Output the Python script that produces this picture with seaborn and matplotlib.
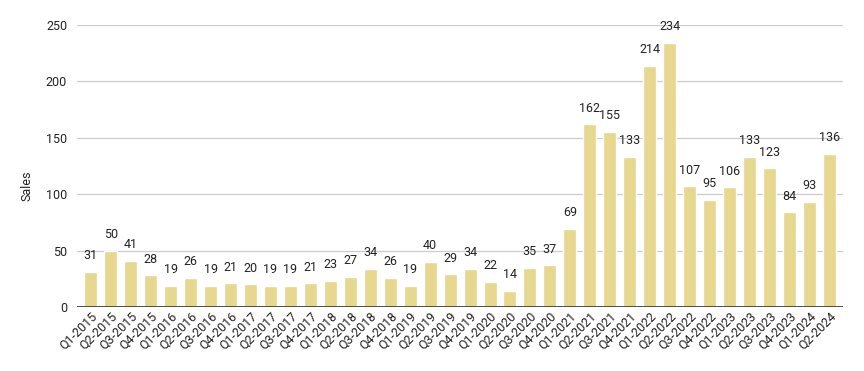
import matplotlib
matplotlib.use("Agg")
import matplotlib.pyplot as plt
import seaborn as sns
import pandas as pd

quarters = [f"Q{q}-{y}" for y in range(2015, 2025) for q in range(1, 5)][:38]
sales = [31, 50, 41, 28, 19, 26, 19, 21, 20, 19, 19, 21, 23, 27, 34, 26, 19, 40, 29, 34,
         22, 14, 35, 37, 69, 162, 155, 133, 214, 234, 107, 95, 106, 133, 123, 84, 93, 136]
yticks = [0, 50, 100, 150, 200, 250]

sns.set_theme(style="white")
plt.rcParams['font.family'] = ['Roboto', 'DejaVu Sans']

df = pd.DataFrame({"Quarter": quarters, "Sales": sales})

fig = plt.figure(figsize=(8.64, 3.71), dpi=100)
ax = fig.add_axes([0.089, 0.1725, 0.887, 0.7601])
sns.barplot(data=df, x="Quarter", y="Sales", color="#E7D78F", width=0.65,
            saturation=1, ax=ax, zorder=3)
ax.set_ylim(0, 250)
ax.set_xlim(-0.7, len(quarters) - 0.3)
ax.set_yticks(yticks)
ax.set_yticklabels([str(t) for t in yticks], fontsize=9, color="#222222")
ax.tick_params(axis='y', length=0, pad=7)
ax.tick_params(axis='x', length=0, pad=2)
ax.set_xticks(range(len(quarters)))
ax.set_xticklabels(quarters, rotation=45, ha='right', rotation_mode='anchor',
                   fontsize=9, color="#222222")
ax.grid(axis='y', color="#CCCCCC", linewidth=0.9, zorder=0)
for s in ax.spines.values():
    s.set_visible(False)
ax.axhline(0, color="#333333", linewidth=1.2, zorder=4)
ax.set_xlabel("")
ax.set_ylabel("Sales", fontsize=9, color="#222222")
ax.yaxis.set_label_coords(-0.057, 0.43)
for i, v in enumerate(sales):
    ax.annotate(str(v), (i, v), xytext=(0, 7), textcoords='offset points',
                ha='center', va='bottom', fontsize=9, color="#222222")
fig.savefig("out.png", dpi=100)
